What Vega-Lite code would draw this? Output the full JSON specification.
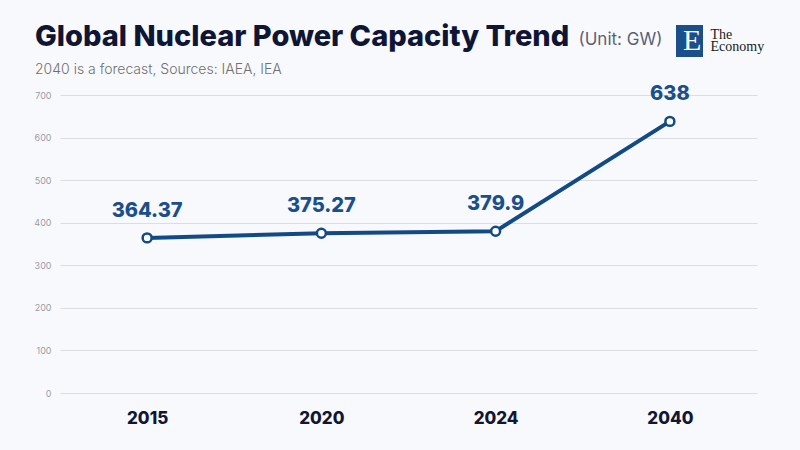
{
  "$schema": "https://vega.github.io/schema/vega-lite/v6.json",
  "autosize": {"type": "none"},
  "width": 697,
  "height": 298,
  "padding": {"left": 60, "top": 95, "right": 43, "bottom": 57},
  "background": "#f8f9fd",
  "config": {"view": {"stroke": null}, "font": "Inter"},
  "title": {
    "text": "Global Nuclear Power Capacity Trend",
    "subtitle": "2040 is a forecast, Sources: IAEA, IEA",
    "anchor": "start",
    "frame": "group",
    "dx": -25,
    "offset": -52,
    "font": "Inter",
    "fontSize": 29,
    "fontWeight": 800,
    "color": "#0f1535",
    "subtitleFont": "Inter",
    "subtitleFontSize": 14,
    "subtitleFontWeight": 300,
    "subtitleColor": "#707070",
    "subtitlePadding": 11
  },
  "data": {
    "values": [
      {"year": "2015", "capacity": 364.37, "label": "364.37"},
      {"year": "2020", "capacity": 375.27, "label": "375.27"},
      {"year": "2024", "capacity": 379.9, "label": "379.9"},
      {"year": "2040", "capacity": 638, "label": "638"}
    ]
  },
  "encoding": {
    "x": {
      "field": "year",
      "type": "ordinal",
      "sort": null,
      "scale": {"type": "point", "padding": 0.5},
      "axis": {
        "title": ["The", "Economy"],
        "titleX": 650,
        "titleY": -355,
        "titleAlign": "left",
        "titleBaseline": "alphabetic",
        "titleFont": "Liberation Serif",
        "titleFontSize": 14,
        "titleFontWeight": "normal",
        "titleColor": "#1a1a1a",
        "titleLineHeight": 12,
        "labelAngle": 0,
        "labelFont": "Inter",
        "labelFontSize": 17,
        "labelFontWeight": 800,
        "labelColor": "#111633",
        "labelPadding": 17,
        "domain": false,
        "ticks": false,
        "grid": false
      }
    },
    "y": {
      "field": "capacity",
      "type": "quantitative",
      "scale": {"domain": [0, 700], "nice": false},
      "axis": {
        "values": [0, 100, 200, 300, 400, 500, 600, 700],
        "title": "(Unit: GW)",
        "titleAngle": 0,
        "titleX": 518,
        "titleY": -51,
        "titleAlign": "left",
        "titleBaseline": "alphabetic",
        "titleFont": "Inter",
        "titleFontSize": 17,
        "titleFontWeight": "normal",
        "titleColor": "#5b5f75",
        "labelFont": "Inter",
        "labelFontSize": 9,
        "labelColor": "#9a9ca6",
        "labelPadding": 9,
        "domain": false,
        "ticks": false,
        "grid": true,
        "gridColor": "#dcdde3",
        "gridWidth": 1
      }
    }
  },
  "layer": [
    {
      "mark": {"type": "line", "strokeWidth": 4},
      "encoding": {
        "color": {
          "datum": "E",
          "scale": {"range": ["#124a85"]},
          "legend": {
            "orient": "none",
            "legendX": 616,
            "legendY": -70,
            "title": null,
            "fillColor": "#1b4f8c",
            "padding": 1,
            "symbolType": "circle",
            "symbolSize": 1,
            "symbolOpacity": 0,
            "symbolStrokeWidth": 0,
            "labelOffset": -24,
            "labelFont": "Liberation Serif",
            "labelFontSize": 30,
            "labelColor": "#ffffff"
          }
        }
      }
    },
    {
      "mark": {"type": "point", "filled": true, "fill": "#ffffff", "stroke": "#124a85", "strokeWidth": 2.5, "size": 80, "opacity": 1}
    },
    {
      "mark": {"type": "text", "font": "Inter", "fontSize": 20, "fontWeight": 800, "color": "#1b4f8c", "dy": -27},
      "encoding": {"text": {"field": "label"}}
    }
  ]
}
